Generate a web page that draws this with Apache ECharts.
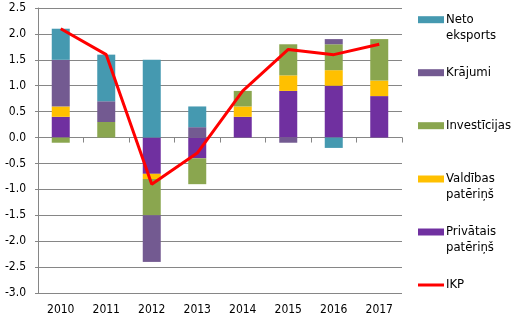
<!DOCTYPE html>
<html>
<head>
<meta charset="utf-8">
<script src="https://cdn.jsdelivr.net/npm/echarts@6/dist/echarts.min.js"></script>
<style>
  html, body { margin: 0; padding: 0; background: #ffffff; }
  #chart { width: 527px; height: 321px; }
</style>
</head>
<body>
<div id="chart"></div>
<script>
// Contributions to GDP growth, percentage points
const years = ['2010', '2011', '2012', '2013', '2014', '2015', '2016', '2017'];
const privatais = [0.4, 0.0, -0.7, -0.4, 0.4, 0.9, 1.0, 0.8];
const valdibas = [0.2, 0.0, -0.1, 0.0, 0.2, 0.3, 0.3, 0.3];
const investicijas = [-0.1, 0.3, -0.7, -0.5, 0.3, 0.6, 0.5, 0.8];
const krajumi = [0.9, 0.4, -0.9, 0.2, 0.0, -0.1, 0.1, 0.0];
const netoEksports = [0.6, 0.9, 1.5, 0.4, 0.0, 0.0, -0.2, 0.0];
const ikp = [2.1, 1.6, -0.9, -0.3, 0.9, 1.7, 1.6, 1.8];

const FONT = 'DejaVu Sans Condensed, DejaVu Sans, sans-serif';
const GRAY = '#868686';

const legendLabels = {
  'Neto eksports': '\nNeto\neksports',
  'Krājumi': 'Krājumi',
  'Investīcijas': 'Investīcijas',
  'Valdības patēriņš': '\nValdības\npatēriņš',
  'Privātais patēriņš': '\nPrivātais\npatēriņš',
  'IKP': 'IKP'
};

function legendFor(name, centerY, multiLine, isLine) {
  const boxH = multiLine ? 46.5 : 15.5;
  return {
    data: [{ name: name, icon: 'rect' }],
    left: 418,
    top: centerY - boxH / 2,
    orient: 'vertical',
    padding: 0,
    itemWidth: 26,
    itemHeight: isLine ? 3 : 7,
    selectedMode: false,
    formatter: n => legendLabels[n],
    textStyle: {
      fontFamily: FONT, fontSize: 13, color: '#000', lineHeight: 15.5,
      padding: [0, 0, 0, -3]
    }
  };
}

function barSeries(name, data, color) {
  return {
    name: name,
    type: 'bar',
    stack: 'total',
    barWidth: 18,
    data: data,
    itemStyle: { color: color },
    emphasis: { disabled: true }
  };
}

const chart = echarts.init(document.getElementById('chart'), null, { renderer: 'canvas' });
chart.setOption({
  animation: false,
  backgroundColor: '#ffffff',
  grid: { left: 38, right: 125, top: 8, bottom: 28, containLabel: false },
  legend: [
    legendFor('Neto eksports', 19.7, true),
    legendFor('Krājumi', 72.7, false),
    legendFor('Investīcijas', 125.7, false),
    legendFor('Valdības patēriņš', 179, true),
    legendFor('Privātais patēriņš', 232, true),
    legendFor('IKP', 285, false, true)
  ],
  xAxis: [
    {
      type: 'category',
      data: years,
      position: 'bottom',
      axisLine: { show: false, onZero: false },
      axisTick: { show: false },
      splitLine: { show: false },
      axisLabel: { fontFamily: FONT, fontSize: 12, color: '#000', margin: 11 }
    },
    {
      type: 'category',
      data: years,
      position: 'top',
      axisLine: { show: true, onZero: true, lineStyle: { color: GRAY, width: 1 } },
      axisTick: { show: true, inside: true, length: 5, lineStyle: { color: GRAY } },
      axisLabel: { show: false },
      splitLine: { show: false }
    }
  ],
  yAxis: {
    type: 'value',
    min: -3,
    max: 2.5,
    interval: 0.5,
    axisLine: { show: true, lineStyle: { color: GRAY, width: 1 } },
    axisTick: { show: true, length: 3, lineStyle: { color: GRAY } },
    splitLine: { show: true, lineStyle: { color: GRAY, width: 1 } },
    axisLabel: {
      fontFamily: FONT, fontSize: 12, color: '#000', margin: 12,
      formatter: v => v.toFixed(1)
    }
  },
  series: [
    barSeries('Privātais patēriņš', privatais, '#7030A0'),
    barSeries('Valdības patēriņš', valdibas, '#FFC000'),
    barSeries('Investīcijas', investicijas, '#8AA64F'),
    barSeries('Krājumi', krajumi, '#735A91'),
    barSeries('Neto eksports', netoEksports, '#4599B0'),
    {
      name: 'IKP',
      type: 'line',
      data: ikp,
      symbol: 'none',
      z: 5,
      lineStyle: { color: '#FF0000', width: 3 },
      itemStyle: { color: '#FF0000' },
      emphasis: { disabled: true }
    }
  ]
});
</script>
</body>
</html>
